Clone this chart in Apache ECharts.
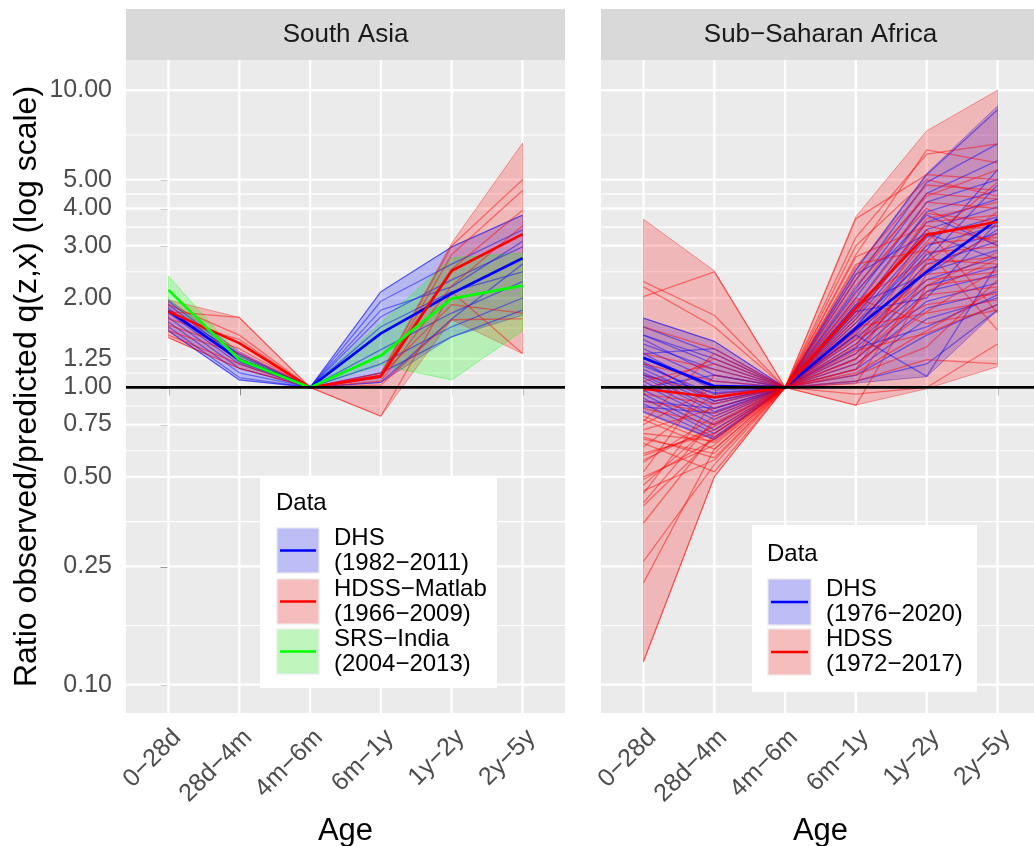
<!DOCTYPE html>
<html>
<head>
<meta charset="utf-8">
<script src="https://cdn.jsdelivr.net/npm/echarts@6/dist/echarts.min.js"></script>
<style>
  html, body { margin: 0; padding: 0; background: #fff; overflow: hidden; }
  #chart { width: 1034px; height: 846px; }
</style>
</head>
<body>
<div id="chart"></div>
<script>
// categories / ticks
const ages = ['0−28d', '28d−4m', '4m−6m', '6m−1y', '1y−2y', '2y−5y'];
const yTicks = [0.1, 0.25, 0.5, 0.75, 1, 1.25, 2, 3, 4, 5, 10];
const panels = ['South Asia', 'Sub−Saharan Africa'];
const saLegend = ['DHS\n(1982−2011)', 'HDSS−Matlab\n(1966−2009)', 'SRS−India\n(2004−2013)'];
const ssaLegend = ['DHS\n(1976−2020)', 'HDSS\n(1972−2017)'];

// South Asia
const saDhsLines = [
  [1.95, 1.28, 1, 2.10, 2.97, 3.80],
  [1.80, 1.30, 1, 1.95, 2.60, 3.39],
  [1.90, 1.25, 1, 1.82, 2.18, 3.10],
  [1.85, 1.22, 1, 1.73, 2.30, 2.97],
  [1.78, 1.20, 1, 1.60, 2.10, 2.45],
  [1.72, 1.16, 1, 1.34, 1.78, 2.27],
  [1.66, 1.12, 1, 1.20, 1.60, 2.00],
  [1.60, 1.08, 1, 1.12, 1.48, 1.82],
  [1.55, 1.06, 1, 1.04, 1.70, 2.60]
];
const saDhsLow = [1.55, 1.06, 1, 1.04, 1.48, 1.75];
const saDhsHigh = [1.98, 1.32, 1, 2.10, 2.97, 3.80];
const saDhsMean = [1.81, 1.24, 1, 1.52, 2.07, 2.72];

const saHdssLines = [
  [1.90, 1.50, 1, 1.10, 3.00, 5.00],
  [1.80, 1.72, 1, 1.08, 2.80, 4.60],
  [1.70, 1.45, 1, 1.12, 2.50, 3.95],
  [1.62, 1.35, 1, 1.05, 2.20, 3.50],
  [1.55, 1.30, 1, 1.10, 1.90, 1.78],
  [1.50, 1.20, 1, 1.02, 1.69, 1.70],
  [1.47, 1.16, 1, 0.80, 2.10, 1.30]
];
const saHdssLow = [1.47, 1.16, 1, 0.80, 1.69, 1.30];
const saHdssHigh = [1.97, 1.72, 1, 1.12, 3.06, 6.64];
const saHdssMean = [1.80, 1.41, 1, 1.09, 2.47, 3.28];

const saSrsLow = [1.95, 1.22, 1, 1.19, 1.06, 1.55];
const saSrsHigh = [2.37, 1.28, 1, 1.65, 2.73, 2.83];
const saSrsMean = [2.13, 1.24, 1, 1.28, 1.99, 2.20];

// Sub-Saharan Africa
const ssaDhsLines = [
  [1.71, 1.43, 1, 2.48, 5.20, 8.60],
  [1.60, 1.30, 1, 2.30, 4.90, 6.60],
  [1.50, 1.20, 1, 2.15, 4.50, 5.80],
  [1.45, 1.10, 1, 2.00, 4.20, 5.00],
  [1.40, 1.15, 1, 1.90, 3.90, 4.60],
  [1.35, 1.05, 1, 1.80, 3.60, 4.30],
  [1.30, 0.98, 1, 1.75, 3.40, 4.05],
  [1.25, 1.00, 1, 1.70, 3.20, 3.75],
  [1.20, 0.92, 1, 1.60, 3.00, 3.50],
  [1.18, 0.95, 1, 1.55, 2.80, 3.30],
  [1.15, 0.90, 1, 1.50, 2.60, 3.10],
  [1.12, 0.88, 1, 1.45, 2.45, 2.90],
  [1.10, 0.85, 1, 1.40, 2.30, 2.75],
  [1.08, 0.83, 1, 1.36, 2.20, 2.55],
  [1.05, 0.80, 1, 1.30, 2.10, 2.40],
  [1.02, 0.78, 1, 1.25, 1.95, 2.25],
  [0.98, 0.75, 1, 1.20, 1.85, 2.10],
  [0.95, 0.72, 1, 1.15, 1.70, 2.00],
  [0.92, 0.70, 1, 1.10, 1.50, 1.90],
  [0.88, 0.68, 1, 1.05, 1.20, 1.82],
  [0.83, 0.67, 1, 1.50, 1.09, 2.60],
  [1.30, 1.35, 1, 1.90, 2.40, 3.40],
  [1.50, 1.25, 1, 2.40, 3.30, 2.70],
  [1.00, 1.10, 1, 1.65, 2.70, 4.80],
  [0.90, 0.85, 1, 2.10, 3.80, 3.00],
  [1.10, 0.96, 1, 1.35, 1.60, 2.05],
  [1.22, 0.90, 1, 1.80, 2.00, 3.60],
  [0.86, 0.82, 1, 1.60, 2.90, 5.40]
];
const ssaDhsLow = [0.823, 0.666, 1, 1.035, 1.087, 1.82];
const ssaDhsHigh = [1.71, 1.43, 1, 2.50, 5.25, 8.85];
const ssaDhsMean = [1.26, 1.01, 1, 1.58, 2.45, 3.68];

const ssaHdssLines = [
  [2.27, 1.75, 1, 3.20, 6.10, 6.60],
  [2.18, 1.60, 1, 2.80, 6.30, 5.70],
  [2.02, 2.45, 1, 3.70, 5.20, 5.00],
  [0.77, 1.30, 1, 2.55, 4.80, 4.60],
  [0.72, 0.85, 1, 2.30, 4.50, 4.30],
  [0.67, 0.60, 1, 2.07, 4.20, 4.00],
  [0.63, 0.95, 1, 1.87, 3.85, 3.60],
  [0.59, 0.72, 1, 1.70, 3.60, 3.80],
  [0.56, 0.80, 1, 1.52, 3.30, 3.50],
  [0.52, 1.10, 1, 1.37, 3.05, 3.20],
  [0.49, 0.67, 1, 1.24, 2.85, 2.97],
  [0.44, 0.90, 1, 1.15, 2.60, 2.75],
  [0.41, 0.78, 1, 1.03, 2.40, 2.55],
  [0.35, 0.70, 1, 0.87, 2.20, 2.36],
  [0.26, 0.55, 1, 1.25, 2.05, 2.18],
  [0.22, 0.62, 1, 1.45, 1.90, 2.07],
  [0.12, 0.50, 1, 1.60, 1.78, 1.97],
  [1.05, 1.20, 1, 2.00, 1.64, 1.82],
  [0.95, 0.88, 1, 2.60, 2.90, 1.56],
  [0.85, 0.75, 1, 1.80, 3.40, 1.78],
  [1.20, 1.05, 1, 1.55, 2.30, 2.45],
  [0.80, 0.65, 1, 1.33, 1.52, 1.90],
  [0.90, 0.82, 1, 1.10, 1.37, 2.30],
  [1.10, 0.93, 1, 2.20, 4.00, 3.00],
  [0.75, 1.00, 1, 1.95, 2.70, 2.60],
  [0.68, 0.58, 1, 1.65, 3.10, 4.90],
  [0.60, 0.70, 1, 1.40, 2.50, 3.30],
  [0.47, 0.76, 1, 1.05, 1.24, 1.20],
  [0.40, 0.68, 1, 0.95, 1.00, 1.40],
  [1.60, 1.35, 1, 3.00, 5.00, 4.40],
  [0.78, 0.62, 1, 1.12, 1.55, 2.15],
  [0.70, 0.66, 1, 1.48, 2.20, 2.85],
  [0.65, 0.52, 1, 1.20, 1.80, 2.50],
  [0.57, 0.74, 1, 2.40, 4.40, 5.40],
  [0.50, 0.64, 1, 1.75, 3.70, 4.20],
  [0.45, 0.57, 1, 1.30, 2.65, 3.90],
  [1.30, 1.15, 1, 2.75, 3.50, 3.10],
  [0.97, 1.25, 1, 1.15, 2.10, 2.70]
];
const ssaHdssLow = [0.119, 0.50, 1, 0.873, 0.99, 1.175];
const ssaHdssHigh = [3.68, 2.47, 1, 3.76, 7.30, 10.0];
const ssaHdssMean = [0.99, 0.927, 1, 1.85, 3.26, 3.61];

// layout
const FONT = 'Liberation Sans';
const BLUE = '0,0,255', RED = '255,0,0', GREEN = '0,255,0';
const yLo = 0.0803, yHi = 12.64;
// the right panel runs a few px past the window edge, as in the source image
const gridL = [126, 601], gridTop = 60, gridW = 439, gridH = 653;

function pts(arr) {
  return arr.map((v, i) => [i, Math.log10(v)]);
}

function thinSeries(lines, rgb, g) {
  return lines.map(l => ({
    type: 'line', xAxisIndex: g, yAxisIndex: g, data: pts(l),
    symbol: 'none', silent: true, z: 3,
    lineStyle: { color: `rgba(${rgb},0.45)`, width: 1.3 }
  }));
}

function meanSeries(arr, rgb, g) {
  return {
    type: 'line', xAxisIndex: g, yAxisIndex: g, data: pts(arr),
    symbol: 'none', silent: true, z: 4,
    lineStyle: { color: `rgb(${rgb})`, width: 2.7 }
  };
}

function ribbonSeries(lo, hi, rgb, g) {
  return {
    type: 'custom', coordinateSystem: 'cartesian2d', xAxisIndex: g, yAxisIndex: g,
    silent: true, z: 2, data: [[0, 0]],
    renderItem: (params, api) => {
      let top = hi.map((v, i) => api.coord([i, Math.log10(v)]));
      let bot = lo.map((v, i) => api.coord([i, Math.log10(v)])).reverse();
      return {
        type: 'polygon', shape: { points: top.concat(bot) },
        style: { fill: `rgba(${rgb},0.22)`, stroke: `rgba(${rgb},0.35)`, lineWidth: 1 }
      };
    }
  };
}

// horizontal lines at y values (log space), across the panel
function hLines(vals, g, color, width, z) {
  return {
    type: 'custom', coordinateSystem: 'cartesian2d', xAxisIndex: g, yAxisIndex: g,
    silent: true, z: z, data: vals.map(v => [0, v]),
    renderItem: (params, api) => {
      let cs = params.coordSys;
      let y = api.coord([0, api.value(1)])[1];
      return {
        type: 'line', shape: { x1: cs.x, y1: y, x2: cs.x + cs.width, y2: y },
        style: { stroke: color, lineWidth: width }
      };
    }
  };
}

function vLines(g) {
  return {
    type: 'custom', coordinateSystem: 'cartesian2d', xAxisIndex: g, yAxisIndex: g,
    silent: true, z: 1, data: ages.map((a, i) => [i, 0]),
    renderItem: (params, api) => {
      let cs = params.coordSys;
      let x = api.coord([api.value(0), 0])[0];
      return {
        type: 'line', shape: { x1: x, y1: cs.y, x2: x, y2: cs.y + cs.height },
        style: { stroke: '#fff', lineWidth: 2.3 }
      };
    }
  };
}

const majorLog = yTicks.map(v => Math.log10(v));
const minorLog = majorLog.slice(1).map((v, i) => (v + majorLog[i]) / 2);

function gridSeries(g) {
  return [
    hLines(minorLog, g, '#fff', 1.1, 1),
    hLines(majorLog, g, '#fff', 2.3, 1),
    vLines(g),
    hLines([0], g, '#000', 2.8, 6)
  ];
}

function xAxis(g) {
  return {
    type: 'value', gridIndex: g, min: -0.6, max: 5.6,
    splitLine: { show: false }, axisLine: { show: false },
    axisTick: { customValues: ages.map((a, i) => i), length: 8, lineStyle: { color: '#333', width: 2 } },
    axisLabel: {
      customValues: ages.map((a, i) => i), formatter: v => ages[v],
      rotate: 45, align: 'right', verticalAlign: 'top',
      fontSize: 25, color: '#4d4d4d', fontFamily: FONT, margin: 12
    },
    name: 'Age', nameLocation: 'middle', nameGap: 103,
    nameTextStyle: { fontSize: 31, color: '#000', fontFamily: FONT }
  };
}

function yAxis(g) {
  let ax = {
    type: 'value', gridIndex: g, min: Math.log10(yLo), max: Math.log10(yHi),
    splitLine: { show: false }, axisLine: { show: false },
    axisTick: { show: g === 0, customValues: majorLog, length: 8, lineStyle: { color: '#333', width: 2 } },
    axisLabel: {
      show: g === 0, customValues: majorLog, formatter: v => Math.pow(10, v).toFixed(2),
      fontSize: 25, color: '#4d4d4d', fontFamily: FONT, margin: 14
    }
  };
  if (g === 0) {
    ax.name = 'Ratio observed/predicted q(z,x) (log scale)';
    ax.nameLocation = 'middle';
    ax.nameGap = 83;
    ax.nameTextStyle = { fontSize: 32, color: '#000', fontFamily: FONT };
  }
  return ax;
}

function strip(g) {
  return [
    { type: 'rect', shape: { x: gridL[g], y: 9, width: gridW, height: 51 }, style: { fill: '#d9d9d9' } },
    {
      type: 'text', x: gridL[g] + gridW / 2, y: 35,
      style: { text: panels[g], fill: '#1a1a1a', fontSize: 26, fontFamily: FONT,
        align: 'center', verticalAlign: 'middle', textAlign: 'center', textVerticalAlign: 'middle' }
    }
  ];
}

function legendBox(box, titleXY, keyX, keyW, keyH, keyYs, labelX, labels, rgbs) {
  let els = [
    { type: 'rect', shape: box, style: { fill: '#fff' } },
    {
      type: 'text', x: titleXY[0], y: titleXY[1],
      style: { text: 'Data', fill: '#000', fontSize: 24, fontFamily: FONT,
        align: 'left', verticalAlign: 'middle', textAlign: 'left', textVerticalAlign: 'middle' }
    }
  ];
  labels.forEach((lab, i) => {
    let ky = keyYs[i];
    els.push({ type: 'rect', shape: { x: keyX, y: ky, width: keyW, height: keyH }, style: { fill: '#f2f2f2' } });
    els.push({ type: 'rect', shape: { x: keyX + 1.5, y: ky + 1.5, width: keyW - 3, height: keyH - 3 },
      style: { fill: `rgba(${rgbs[i]},0.22)` } });
    els.push({ type: 'line', shape: { x1: keyX + 4, y1: ky + keyH / 2, x2: keyX + keyW - 4, y2: ky + keyH / 2 },
      style: { stroke: `rgb(${rgbs[i]})`, lineWidth: 2.5 } });
    els.push({
      type: 'text', x: labelX, y: ky + keyH / 2,
      style: { text: lab, fill: '#000', fontSize: 24, fontFamily: FONT, lineHeight: 25,
        align: 'left', verticalAlign: 'middle', textAlign: 'left', textVerticalAlign: 'middle' }
    });
  });
  return els;
}

let series = [].concat(
  gridSeries(0), gridSeries(1),
  // South Asia
  ribbonSeries(saDhsLow, saDhsHigh, BLUE, 0),
  ribbonSeries(saHdssLow, saHdssHigh, RED, 0),
  ribbonSeries(saSrsLow, saSrsHigh, GREEN, 0),
  thinSeries(saDhsLines, BLUE, 0),
  thinSeries(saHdssLines, RED, 0),
  meanSeries(saDhsMean, BLUE, 0),
  meanSeries(saHdssMean, RED, 0),
  meanSeries(saSrsMean, GREEN, 0),
  // Sub-Saharan Africa
  ribbonSeries(ssaDhsLow, ssaDhsHigh, BLUE, 1),
  ribbonSeries(ssaHdssLow, ssaHdssHigh, RED, 1),
  thinSeries(ssaDhsLines, BLUE, 1),
  thinSeries(ssaHdssLines, RED, 1),
  meanSeries(ssaDhsMean, BLUE, 1),
  meanSeries(ssaHdssMean, RED, 1)
);

let graphics = [].concat(
  strip(0), strip(1),
  legendBox({ x: 260, y: 478, width: 237, height: 210 }, [276, 503], 276, 44, 47, [527, 578, 628], 334,
    saLegend, [BLUE, RED, GREEN]),
  legendBox({ x: 752, y: 525, width: 225, height: 167 }, [767, 554], 767, 45, 48, [578, 628], 826,
    ssaLegend, [BLUE, RED])
);

let chart = echarts.init(document.getElementById('chart'), null, { renderer: 'canvas' });
chart.setOption({
  animation: false,
  backgroundColor: '#fff',
  grid: [0, 1].map(g => ({
    left: gridL[g], top: gridTop, width: gridW, height: gridH,
    outerBoundsMode: 'none',
    show: true, backgroundColor: '#ebebeb', borderWidth: 0
  })),
  xAxis: [xAxis(0), xAxis(1)],
  yAxis: [yAxis(0), yAxis(1)],
  series: series,
  graphic: { elements: graphics.map(e => Object.assign({ z: 100, silent: true }, e)) }
});
</script>
</body>
</html>
